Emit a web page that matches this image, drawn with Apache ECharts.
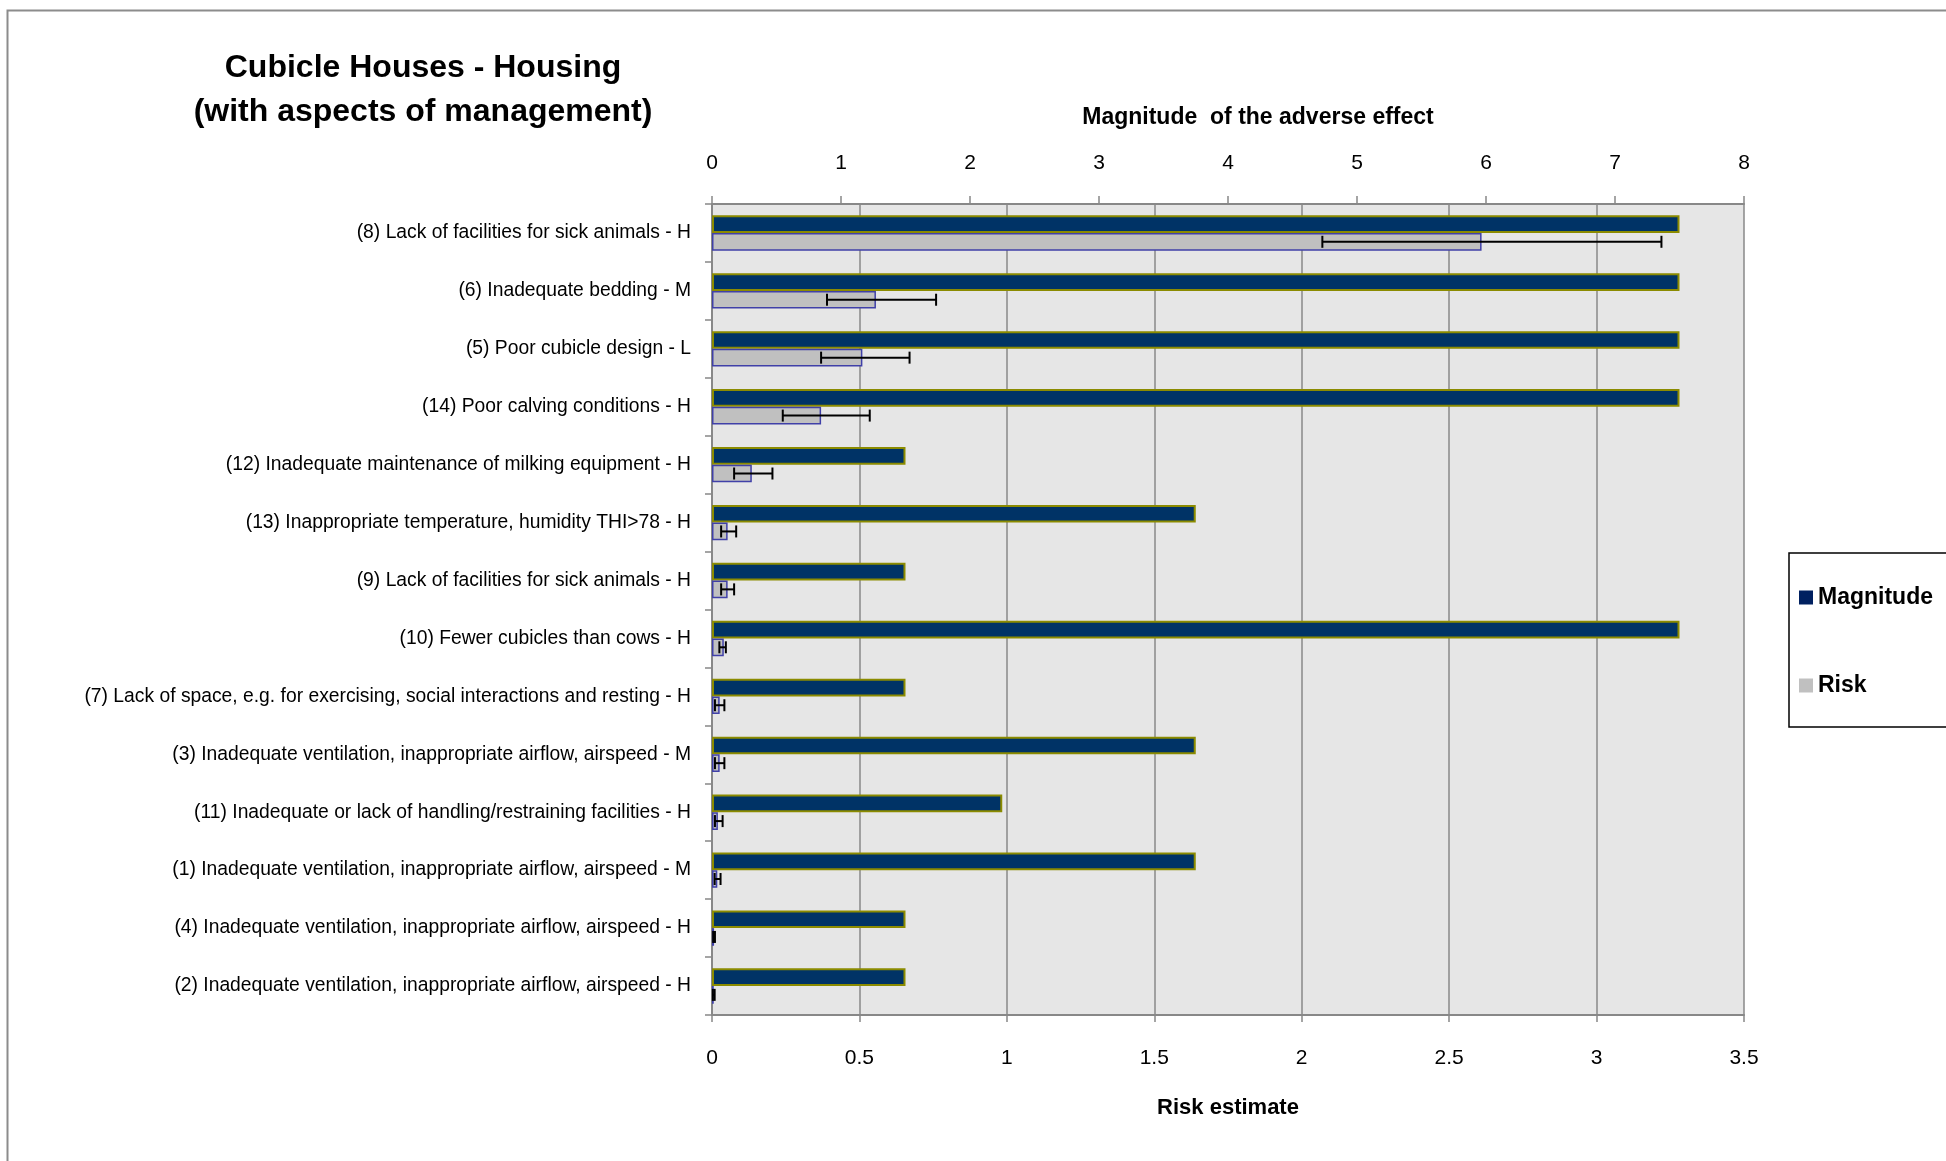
<!DOCTYPE html>
<html>
<head>
<meta charset="utf-8">
<script src="https://cdn.jsdelivr.net/npm/echarts@6/dist/echarts.min.js"></script>
<style>
html,body{margin:0;padding:0;background:#fff;}
#chart{width:1946px;height:1161px;}
</style>
</head>
<body>
<div id="chart"></div>
<script>
var categories = [
  "(8) Lack of facilities for sick animals - H",
  "(6) Inadequate bedding - M",
  "(5) Poor cubicle design - L",
  "(14) Poor calving conditions - H",
  "(12) Inadequate maintenance of milking equipment - H",
  "(13) Inappropriate temperature, humidity THI>78 - H",
  "(9) Lack of facilities for sick animals - H",
  "(10) Fewer cubicles than cows - H",
  "(7) Lack of space, e.g. for exercising, social interactions and resting - H",
  "(3) Inadequate ventilation, inappropriate airflow, airspeed - M",
  "(11) Inadequate or lack of handling/restraining facilities - H",
  "(1) Inadequate ventilation, inappropriate airflow, airspeed - M",
  "(4) Inadequate ventilation, inappropriate airflow, airspeed - H",
  "(2) Inadequate ventilation, inappropriate airflow, airspeed - H"
];
var magnitude = [7.5, 7.5, 7.5, 7.5, 1.5, 3.75, 1.5, 7.5, 1.5, 3.75, 2.25, 3.75, 1.5, 1.5];
var risk      = [2.61, 0.556, 0.51, 0.37, 0.135, 0.053, 0.053, 0.04, 0.026, 0.026, 0.02, 0.018, 0.007, 0.006];
var riskLow   = [2.07, 0.39, 0.37, 0.24, 0.075, 0.031, 0.031, 0.025, 0.01, 0.01, 0.01, 0.009, 0.004, 0.003];
var riskHigh  = [3.22, 0.76, 0.67, 0.535, 0.205, 0.082, 0.075, 0.047, 0.042, 0.042, 0.036, 0.029, 0.01, 0.009];
var riskTicks = [0, 0.5, 1, 1.5, 2, 2.5, 3, 3.5];
var magnitudeTicks = [0, 1, 2, 3, 4, 5, 6, 7, 8];

var FONT = "'Liberation Sans', Arial, sans-serif";
var CAT_GAP = 0.39;

var errData = categories.map(function (c, i) { return [i, riskLow[i], riskHigh[i]]; });

var chart = echarts.init(document.getElementById('chart'));
chart.setOption({
  animation: false,
  backgroundColor: '#ffffff',
  textStyle: { fontFamily: FONT },
  graphic: [{
    type: 'rect', left: 5, top: 8, z: -1,
    shape: { width: 2000, height: 2000 },
    style: { fill: 'none', stroke: '#8c8c8c', lineWidth: 2 }
  }],
  title: {
    text: 'Cubicle Houses - Housing\n(with aspects of management)',
    left: 418, top: 41, textAlign: 'center',
    textStyle: { fontFamily: FONT, fontSize: 32, fontWeight: 'bold', color: '#000', lineHeight: 44 }
  },
  legend: {
    orient: 'vertical',
    left: 1789, top: 553,
    data: [
      { name: 'Magnitude', itemStyle: { color: '#002060', borderWidth: 0 } },
      { name: 'Risk', itemStyle: { color: '#C0C0C0', borderWidth: 0 } }
    ],
    icon: 'rect', itemWidth: 14, itemHeight: 14, itemGap: 65,
    padding: [33, 80, 30, 10],
    borderColor: '#000', borderWidth: 1.5,
    textStyle: { fontFamily: FONT, fontSize: 23, fontWeight: 'bold', color: '#000', lineHeight: 23 }
  },
  grid: {
    left: 712, right: 202, top: 204, bottom: 146,
    show: true, backgroundColor: '#E6E6E6', borderWidth: 0
  },
  xAxis: [{
    type: 'value', position: 'bottom',
    min: riskTicks[0], max: riskTicks[riskTicks.length - 1], interval: 0.5,
    name: 'Risk estimate', nameLocation: 'middle', nameGap: 82,
    nameTextStyle: { fontFamily: FONT, fontSize: 22, fontWeight: 'bold', color: '#000' },
    axisLine: { show: true, lineStyle: { color: '#888', width: 2 } },
    axisTick: { show: true, length: 7, lineStyle: { color: '#888', width: 1.5 } },
    axisLabel: { margin: 33, fontSize: 21, color: '#000', fontFamily: FONT },
    splitLine: { show: true, lineStyle: { color: '#888', width: 1.5 } }
  }, {
    type: 'value', position: 'top',
    min: magnitudeTicks[0], max: magnitudeTicks[magnitudeTicks.length - 1], interval: 1,
    name: 'Magnitude  of the adverse effect', nameLocation: 'middle', nameGap: 75,
    nameTextStyle: { fontFamily: FONT, fontSize: 23, fontWeight: 'bold', color: '#000', padding: [0, 0, 0, 60] },
    axisLine: { show: true, lineStyle: { color: '#888', width: 2 } },
    axisTick: { show: true, length: 8, lineStyle: { color: '#888', width: 1.5 } },
    axisLabel: { margin: 30, fontSize: 21, color: '#000', fontFamily: FONT },
    splitLine: { show: false }
  }],
  yAxis: [{
    type: 'category', data: categories, inverse: true,
    axisLine: { show: true, lineStyle: { color: '#888', width: 2 } },
    axisTick: { show: true, length: 7, lineStyle: { color: '#888', width: 1.5 } },
    axisLabel: { margin: 21, fontSize: 19.3, color: '#000', fontFamily: FONT },
    splitLine: { show: false }
  }],
  series: [{
    name: 'Magnitude', type: 'bar', xAxisIndex: 1, yAxisIndex: 0,
    data: magnitude,
    barGap: '0%', barCategoryGap: (CAT_GAP * 100) + '%',
    itemStyle: { color: '#003366', borderColor: '#8B8B00', borderWidth: 2 }
  }, {
    name: 'Risk', type: 'bar', xAxisIndex: 0, yAxisIndex: 0,
    data: risk,
    barGap: '0%', barCategoryGap: (CAT_GAP * 100) + '%',
    itemStyle: { color: '#C0C0C0', borderColor: '#4040A8', borderWidth: 1.5 }
  }, {
    name: 'RiskError', type: 'custom', xAxisIndex: 0, yAxisIndex: 0,
    data: errData,
    encode: { x: [1, 2], y: 0 },
    z: 5,
    renderItem: function (params, api) {
      var idx = api.value(0);
      var lo = api.coord([api.value(1), idx]);
      var hi = api.coord([api.value(2), idx]);
      var band = api.size([0, 1])[1];
      var barW = band * (1 - CAT_GAP) / 2;
      var y = lo[1] + barW / 2;
      var cap = 6;
      var st = { stroke: '#000', lineWidth: 2 };
      return {
        type: 'group',
        children: [
          { type: 'line', shape: { x1: lo[0], y1: y, x2: hi[0], y2: y }, style: st },
          { type: 'line', shape: { x1: lo[0], y1: y - cap, x2: lo[0], y2: y + cap }, style: st },
          { type: 'line', shape: { x1: hi[0], y1: y - cap, x2: hi[0], y2: y + cap }, style: st }
        ]
      };
    }
  }]
});
</script>
</body>
</html>
